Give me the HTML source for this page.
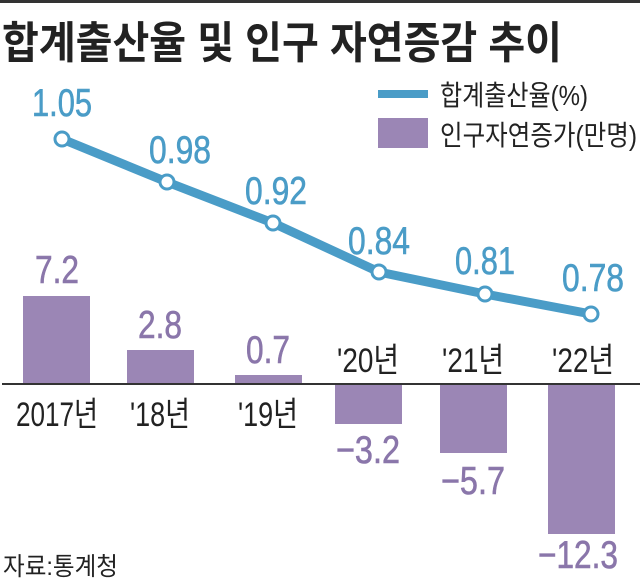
<!DOCTYPE html>
<html><head><meta charset="utf-8"><style>
html,body{margin:0;padding:0;background:#fff}
svg{display:block}
text{font-family:"Liberation Sans","Noto Sans CJK KR",sans-serif}
</style></head><body>
<svg width="640" height="583" viewBox="0 0 640 583">
<rect x="0" y="0" width="640" height="3" fill="#333"/>
<text x="2" y="58" font-size="44" font-weight="bold" fill="#222" textLength="560" lengthAdjust="spacingAndGlyphs">합계출산율 및 인구 자연증감 추이</text>
<!-- legend -->
<rect x="378" y="90" width="50" height="8" fill="#4a9cc7"/>
<text x="440" y="105" font-size="28" fill="#222" textLength="148" lengthAdjust="spacingAndGlyphs">합계출산율(%)</text>
<rect x="378" y="118" width="50" height="30" fill="#9b86b5"/>
<text x="440" y="145" font-size="28" fill="#222" textLength="197" lengthAdjust="spacingAndGlyphs">인구자연증가(만명)</text>
<!-- bars -->
<g fill="#9b86b5">
<rect x="23" y="296" width="67" height="89"/>
<rect x="127" y="350" width="67" height="35"/>
<rect x="235" y="375" width="67" height="10"/>
<rect x="335" y="385" width="67" height="39"/>
<rect x="440" y="385" width="67" height="68"/>
<rect x="548" y="385" width="67" height="149"/>
</g>
<rect x="2" y="383" width="638" height="2" fill="#333"/>
<!-- year labels -->
<g font-size="34" fill="#222" text-anchor="middle">
<text x="57" y="426" textLength="82" lengthAdjust="spacingAndGlyphs">2017년</text>
<text x="160" y="426" textLength="60" lengthAdjust="spacingAndGlyphs">'18년</text>
<text x="268" y="426" textLength="60" lengthAdjust="spacingAndGlyphs">'19년</text>
<text x="368" y="372" textLength="62" lengthAdjust="spacingAndGlyphs">'20년</text>
<text x="473" y="372" textLength="62" lengthAdjust="spacingAndGlyphs">'21년</text>
<text x="583" y="372" textLength="62" lengthAdjust="spacingAndGlyphs">'22년</text>
</g>
<!-- bar values -->
<g font-size="39" fill="#8a76aa" stroke="#8a76aa" stroke-width="0.6" text-anchor="middle">
<text x="57" y="283" textLength="44" lengthAdjust="spacingAndGlyphs">7.2</text>
<text x="160" y="338" textLength="44" lengthAdjust="spacingAndGlyphs">2.8</text>
<text x="268" y="363" textLength="44" lengthAdjust="spacingAndGlyphs">0.7</text>
<text x="368" y="463" textLength="64" lengthAdjust="spacingAndGlyphs">−3.2</text>
<text x="473" y="494" textLength="64" lengthAdjust="spacingAndGlyphs">−5.7</text>
<text x="578" y="568" textLength="80" lengthAdjust="spacingAndGlyphs">−12.3</text>
</g>
<!-- line -->
<polyline points="62,139 167,182 273,223 379,272 485,294 591,314" fill="none" stroke="#4a9cc7" stroke-width="9" stroke-linejoin="round"/>
<g fill="#fff" stroke="#4a9cc7" stroke-width="3">
<circle cx="62" cy="139" r="7"/><circle cx="167" cy="182" r="7"/><circle cx="273" cy="223" r="7"/>
<circle cx="379" cy="272" r="7"/><circle cx="485" cy="294" r="7"/><circle cx="591" cy="314" r="7"/>
</g>
<g font-size="39" fill="#4a9cc7" stroke="#4a9cc7" stroke-width="0.6" text-anchor="middle">
<text x="62" y="116" textLength="60" lengthAdjust="spacingAndGlyphs">1.05</text>
<text x="180" y="163" textLength="62" lengthAdjust="spacingAndGlyphs">0.98</text>
<text x="276" y="204" textLength="62" lengthAdjust="spacingAndGlyphs">0.92</text>
<text x="379" y="254" textLength="62" lengthAdjust="spacingAndGlyphs">0.84</text>
<text x="485" y="274" textLength="60" lengthAdjust="spacingAndGlyphs">0.81</text>
<text x="593" y="291" textLength="62" lengthAdjust="spacingAndGlyphs">0.78</text>
</g>
<text x="3" y="575" font-size="25" fill="#222" textLength="115" lengthAdjust="spacingAndGlyphs">자료:통계청</text>
</svg>
</body></html>
